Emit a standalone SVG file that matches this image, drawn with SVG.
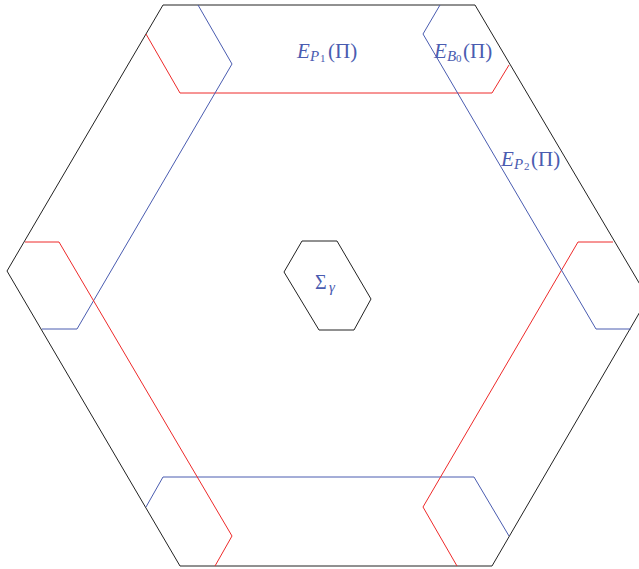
<svg xmlns="http://www.w3.org/2000/svg" width="639" height="569" viewBox="0 0 639 569">
<style>
.k{fill:none;stroke:#222;stroke-width:1}
.r{fill:none;stroke:#ee2a2a;stroke-width:1}
.b{fill:none;stroke:#4a5cb0;stroke-width:1}
.t{font-family:"Liberation Serif","DejaVu Serif",serif;fill:#4a5cb0}
.i{font-style:italic}
</style>
<rect width="639" height="569" fill="#fff"/>
<g id="outer"><path class="k" d="M163,5 L475,5 L648,298 L492,566 L180,566 L7,271 Z"/></g>
<g id="sigma">
<path class="k" d="M302,241 L337,241 L371,299 L354,330 L319,330 L284,272 Z"/>
<text class="t" font-size="20" x="315" y="289">Σ<tspan class="i" font-size="15" x="329" dy="3">γ</tspan></text>
</g>
<g id="connectors">
<path class="r" d="M146,34 L180,93 L492,93 L509,65"/>
<path class="b" d="M146,507 L163,477 L474,477 L509,536"/>
<path class="b" d="M198,5 L232,64 L77,329 L42,329"/>
<path class="r" d="M457,566 L423,507 L578,242 L613,242"/>
<path class="r" d="M25,242 L59,242 L232,536 L215,566"/>
<path class="b" d="M440,5 L423,34 L596,329 L631,329"/>
</g>
<g id="labels">
<text class="t" font-size="21" x="297" y="58"><tspan class="i">E</tspan><tspan class="i" font-size="15" x="310" dy="3">P</tspan><tspan font-size="11" x="320" dy="1">1</tspan><tspan x="328" dy="-4">(Π)</tspan></text>
<text class="t" font-size="21" x="434" y="58"><tspan class="i">E</tspan><tspan class="i" font-size="15" x="447" dy="3">B</tspan><tspan font-size="11" x="456" dy="1">0</tspan><tspan x="463" dy="-4">(Π)</tspan></text>
<text class="t" font-size="21" x="501" y="166"><tspan class="i">E</tspan><tspan class="i" font-size="15" x="514" dy="3">P</tspan><tspan font-size="11" x="524" dy="1">2</tspan><tspan x="531" dy="-4">(Π)</tspan></text>
</g>
</svg>
